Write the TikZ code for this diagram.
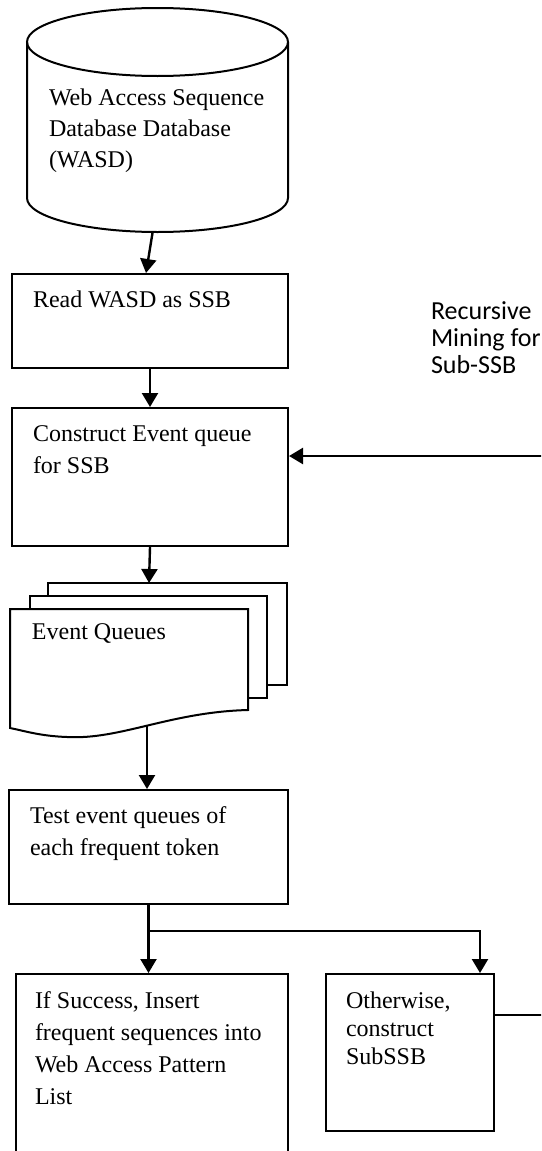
\documentclass[tikz,border=0pt]{standalone}
\usepackage{fontspec}
\setmainfont{Liberation Serif}
\newfontfamily\calib{Carlito}
\usetikzlibrary{arrows.meta}
\begin{document}
\begin{tikzpicture}[x=0.5pt,y=-0.5pt,line width=1pt,
  box/.style={draw,line width=1pt,rectangle,inner sep=0pt,anchor=north west,fill=white},
  txt/.style={anchor=north west,inner sep=0pt,align=left,font=\fontsize{12}{16}\selectfont},
  arr/.style={-{Triangle[width=8pt,length=7pt]},line width=1.2pt}]
\useasboundingbox (0,0) rectangle (541,1151);
\fill[white] (0,0) rectangle (541,1151);
\clip (0,0) rectangle (541,1151);
% database cylinder
\draw[fill=white] (27,42) -- (27,198) arc[start angle=180,end angle=360,x radius=65.25pt,y radius=17pt] -- (288,42);
\draw (157.5,42) ellipse [x radius=65.25pt,y radius=17pt];
\node[inner sep=0pt,minimum width=130.5pt,minimum height=112pt] (db) at (157.5,120) {};
\coordinate (dbout) at ([xshift=-2.5pt]db.south);
\node[txt,font=\fontsize{12}{15.5}\selectfont] (dbtext) at (48,82.3) {\strut Web Access Sequence\\Database Database\\(WASD)};
% boxes
\node[box,minimum width=138pt,minimum height=47pt] (read) at (11,273) {};
\node[txt] (readtext) at (32,283.6) {\strut Read WASD as SSB};
\node[box,minimum width=138pt,minimum height=69pt] (evq) at (11,407) {};
\node[txt] (evqtext) at (32,417.6) {\strut Construct Event queue\\for SSB};
\node[txt,font=\calib\fontsize{13}{13.5}\selectfont] (rec) at (430,299.1) {\strut Recursive\\Mining for\\Sub-SSB};
% event queues stack
\draw[fill=white] (48,583) rectangle (287,685);
\draw[fill=white] (30,596) rectangle (267,698);
\draw[fill=white] (10,609) -- (248,609) -- (248,710) .. controls (170,712) and (120,740) .. (67,737) .. controls (40,736) and (25,731) .. (10,728) -- cycle;
\coordinate (eqtop) at (149,583);
\coordinate (eqbot) at (147,725);
\node[txt] (eqtext) at (31,615.6) {\strut Event Queues};
% test box
\node[box,minimum width=139.5pt,minimum height=57pt] (test) at (8,789) {};
\node[txt] (testtext) at (29,799.6) {\strut Test event queues of\\each frequent token};
% result boxes
\node[box,minimum width=136pt,minimum height=100pt] (left) at (15,973) {};
\node[txt] (lefttext) at (34,984.6) {\strut If Success, Insert\\frequent sequences into\\Web Access Pattern\\List};
\node[box,minimum width=84pt,minimum height=78.5pt] (right) at (325,973) {};
\node[txt,font=\fontsize{12}{14}\selectfont] (righttext) at (345,987.4) {\strut Otherwise,\\construct\\SubSSB};
% connectors
\draw[arr] (dbout) -- ([xshift=-2pt]read.north);
\draw[arr] (read.south) -- (evq.north);
\draw[arr] (evq.south) -- (eqtop);
\draw[arr] (eqbot) -- (eqbot |- test.north);
\coordinate (splitR) at (480,931);
\draw[arr] (test.south) -- (test.south |- left.north);
\draw[arr] (test.south |- splitR) -- (splitR) -- (splitR |- right.north);
\coordinate (loopA) at (546,1015);
\coordinate (loopB) at (546,456);
\draw[arr] (right.east |- loopA) -- (loopA) -- (loopB) -- (evq.east |- loopB);
\end{tikzpicture}
\end{document}
